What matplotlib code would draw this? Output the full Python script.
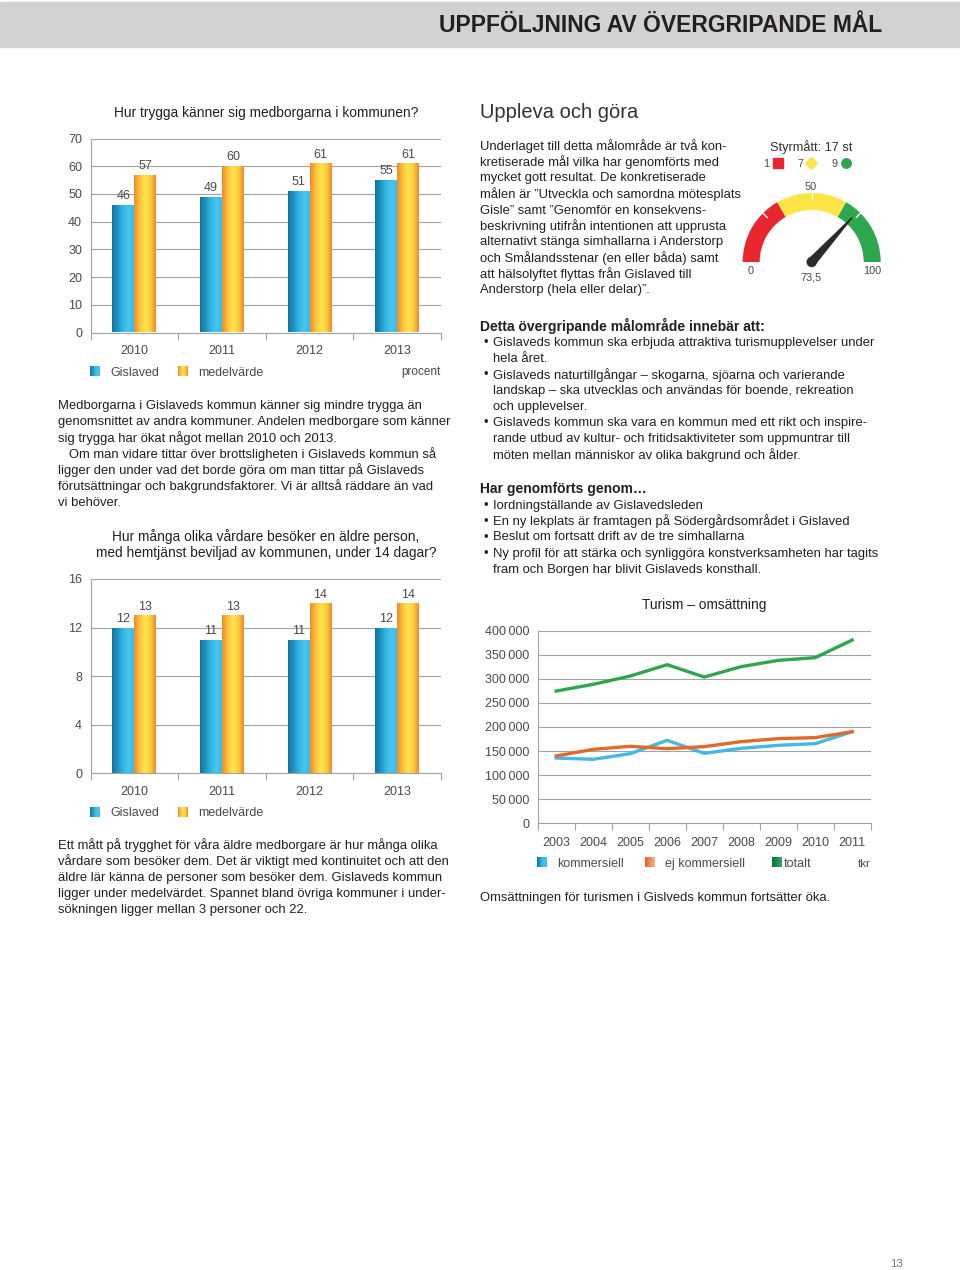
import numpy as np
import matplotlib.pyplot as plt
from matplotlib.patches import Rectangle, Wedge, Polygon, Circle
from matplotlib.colors import LinearSegmentedColormap

plt.rcParams['font.family'] = ['Liberation Sans', 'DejaVu Sans']

W, H = 960, 1270

# ---- data ----
years_bar = ['2010', '2011', '2012', '2013']
trygg_gislaved = [46, 49, 51, 55]
trygg_medel = [57, 60, 61, 61]
trygg_ticks = [0, 10, 20, 30, 40, 50, 60, 70]

vardare_gislaved = [12, 11, 11, 12]
vardare_medel = [13, 13, 14, 14]
vardare_ticks = [0, 4, 8, 12, 16]

years_tur = ['2003', '2004', '2005', '2006', '2007', '2008', '2009', '2010', '2011']
tur_kommersiell = [135600, 132900, 144600, 172300, 145300, 155700, 161900, 165400, 190300]
tur_ej_kommersiell = [139800, 153600, 159900, 155000, 159200, 169600, 175800, 177900, 190300]
tur_totalt = [274700, 288600, 305900, 329400, 303800, 325300, 338400, 344000, 380600]
tur_ticks = [0, 50000, 100000, 150000, 200000, 250000, 300000, 350000, 400000]

styrmatt_total = 17
styrmatt_counts = [1, 7, 9]
gauge_value = 73.5

TXT = '#231f20'
GRAY = '#4a4a4a'
GRID = '#a3a3a3'
BODY = 9.35
TICK = 9

blue_cm = LinearSegmentedColormap.from_list('b', ['#14739c', '#1e92c2', '#36b7e6', '#44c5f1', '#3cbbe9'])
orange_cm = LinearSegmentedColormap.from_list('o', ['#f08a2c', '#fbc03c', '#ffe54b', '#fbcf40', '#ee8a2e'])
salmon_cm = LinearSegmentedColormap.from_list('s', ['#e4602c', '#f08a5c', '#f7b08e'])
green_cm = LinearSegmentedColormap.from_list('g', ['#0e6f3a', '#1f8c4c', '#35a862'])
grad = np.linspace(0, 1, 64).reshape(1, -1)

fig = plt.figure(figsize=(9.6, 12.7), dpi=100)
page = fig.add_axes([0, 0, 1, 1])
page.axis('off')


def px_axes(x0, y0, x1, y1):
    return fig.add_axes([x0 / W, 1 - y1 / H, (x1 - x0) / W, (y1 - y0) / H])


def lines(x, y0, rows, step=16, size=BODY, **kw):
    for i, r in enumerate(rows):
        page.text(x, y0 + i * step, r, va='center_baseline', ha='left',
                  fontsize=size, color=TXT, **kw)


def legend_sq(x, y, cm, label, tx):
    page.imshow(grad, cmap=cm, extent=(x, x + 10, y + 5, y - 5), aspect='auto', zorder=3)
    page.text(tx, y, label, va='center_baseline', ha='left', fontsize=TICK, color=GRAY)


def style_axes(ax, n):
    ax.set_xlim(-0.5, n - 0.5)
    ax.yaxis.grid(True, color=GRID, lw=0.8)
    ax.set_axisbelow(True)
    ax.set_xticks(np.arange(n + 1) - 0.5, minor=True)
    ax.tick_params(axis='x', which='major', length=0, pad=9, labelsize=TICK, labelcolor=GRAY)
    ax.tick_params(axis='x', which='minor', length=5, color=GRID, width=0.8)
    ax.tick_params(axis='y', length=0, pad=6, labelsize=TICK, labelcolor=GRAY)
    for s in ['top', 'right']:
        ax.spines[s].set_visible(False)
    for s in ['left', 'bottom']:
        ax.spines[s].set_color(GRID)
        ax.spines[s].set_linewidth(0.8)
    ax.patch.set_alpha(0)


def bar_chart(ax, g, m, ymax, ticks):
    x = np.arange(len(years_bar))
    w = 0.25
    for vals, off, cm in [(g, -w / 2, blue_cm), (m, w / 2, orange_cm)]:
        bars = ax.bar(x + off, vals, w, color='none', zorder=3)
        for b, v in zip(bars, vals):
            im = ax.imshow(grad, cmap=cm, aspect='auto', zorder=3,
                           extent=(b.get_x(), b.get_x() + w, 0, v))
            im.set_clip_path(b)
            ax.annotate(str(v), (b.get_x() + w / 2, v), xytext=(0, 2),
                        textcoords='offset points', ha='center', va='bottom',
                        fontsize=TICK, color=GRAY)
    ax.set_ylim(0, ymax)
    ax.set_yticks(ticks)
    ax.set_xticks(x, years_bar)
    style_axes(ax, len(years_bar))


# ---- header ----
page.add_patch(Rectangle((0, 2), W, 45, color='#d1d2d4', zorder=0))
page.text(882, 25, 'UPPFÖLJNING AV ÖVERGRIPANDE MÅL', ha='right', va='center',
          fontsize=16.5, fontweight='bold', color='#231f20')

# ---- chart 1 ----
page.text(266, 112, 'Hur trygga känner sig medborgarna i kommunen?', ha='center',
          va='center_baseline', fontsize=9.9, color=TXT)
ax1 = px_axes(90.5, 138.5, 441, 332.5)
bar_chart(ax1, trygg_gislaved, trygg_medel, 70, trygg_ticks)
legend_sq(90, 371, blue_cm, 'Gislaved', 110)
legend_sq(178, 371, orange_cm, 'medelvärde', 198)
page.text(441, 371, 'procent', ha='right', va='center_baseline', fontsize=8.5, color=GRAY)

lines(58, 405, [
    'Medborgarna i Gislaveds kommun känner sig mindre trygga än',
    'genomsnittet av andra kommuner. Andelen medborgare som känner',
    'sig trygga har ökat något mellan 2010 och 2013.',
])
lines(58, 453, [
    '   Om man vidare tittar över brottsligheten i Gislaveds kommun så',
    'ligger den under vad det borde göra om man tittar på Gislaveds',
    'förutsättningar och bakgrundsfaktorer. Vi är alltså räddare än vad',
    'vi behöver.',
])

# ---- chart 2 ----
page.text(266, 535, 'Hur många olika vårdare besöker en äldre person,', ha='center',
          va='center_baseline', fontsize=9.9, color=TXT)
page.text(266, 552, 'med hemtjänst beviljad av kommunen, under 14 dagar?', ha='center',
          va='center_baseline', fontsize=9.9, color=TXT)
ax2 = px_axes(90.5, 579, 441, 773.3)
bar_chart(ax2, vardare_gislaved, vardare_medel, 16, vardare_ticks)
legend_sq(90, 812, blue_cm, 'Gislaved', 110)
legend_sq(178, 812, orange_cm, 'medelvärde', 198)

lines(58, 844, [
    'Ett mått på trygghet för våra äldre medborgare är hur många olika',
    'vårdare som besöker dem. Det är viktigt med kontinuitet och att den',
    'äldre lär känna de personer som besöker dem. Gislaveds kommun',
    'ligger under medelvärdet. Spannet bland övriga kommuner i under-',
    'sökningen ligger mellan 3 personer och 22.',
])

# ---- right column ----
page.text(480, 111, 'Uppleva och göra', ha='left', va='center_baseline',
          fontsize=14.5, color='#333333')
lines(480.5, 145, [
    'Underlaget till detta målområde är två kon-',
    'kretiserade mål vilka har genomförts med',
    'mycket gott resultat. De konkretiserade',
    'målen är ”Utveckla och samordna mötesplats',
    'Gisle” samt ”Genomför en konsekvens-',
    'beskrivning utifrån intentionen att upprusta',
    'alternativt stänga simhallarna i Anderstorp',
    'och Smålandsstenar (en eller båda) samt',
    'att hälsolyftet flyttas från Gislaved till',
    'Anderstorp (hela eller delar)”.',
])

# gauge
page.text(811, 146, f'Styrmått: {styrmatt_total} st', ha='center', va='center_baseline',
          fontsize=9.2, color='#333333')
for xnum, xm, mk, col, cnt in [(766, 778, 's', '#e8262d', styrmatt_counts[0]),
                               (800, 811, 'D', '#fde545', styrmatt_counts[1]),
                               (834, 846, 'o', '#2ea64e', styrmatt_counts[2])]:
    page.text(xnum, 163, str(cnt), ha='center', va='center_baseline', fontsize=7.8, color=GRAY)
    page.plot([xm], [162.5], mk, ms=6.8 if mk != 'D' else 5.8, color=col, zorder=4)

cx, cy = 811.7, 262
for v0, v1, col in [(0, 100 / 3, '#e8262d'), (100 / 3, 200 / 3, '#fde545'), (200 / 3, 100, '#2ea64e')]:
    page.add_patch(Wedge((cx, cy), 69, 180 + 1.8 * v0, 180 + 1.8 * v1, width=17,
                         color=col, lw=0, zorder=2))
for v in [25, 50, 75]:
    th = np.radians(180 + 1.8 * v)
    page.plot([cx + 63 * np.cos(th), cx + 69 * np.cos(th)],
              [cy + 63 * np.sin(th), cy + 69 * np.sin(th)], color='white', lw=1, zorder=3)
th = np.radians(180 + 1.8 * gauge_value)
tip = (cx + 60 * np.cos(th), cy + 60 * np.sin(th))
perp = (-np.sin(th), np.cos(th))
page.add_patch(Polygon([(cx + 4 * perp[0], cy + 4 * perp[1]), tip,
                        (cx - 4 * perp[0], cy - 4 * perp[1])], closed=True,
                       color='#2b2b2b', zorder=4))
page.add_patch(Circle((cx, cy), 4.5, color='#2b2b2b', zorder=4))
page.text(811, 186, '50', ha='center', va='center_baseline', fontsize=7.8, color=GRAY)
page.text(751, 270, '0', ha='center', va='center_baseline', fontsize=7.8, color=GRAY)
page.text(872, 270, '100', ha='center', va='center_baseline', fontsize=7.8, color=GRAY)
page.text(811, 276, '73,5', ha='center', va='center_baseline', fontsize=7.8, color=GRAY)

page.text(480, 324, 'Detta övergripande målområde innebär att:', ha='left',
          va='center_baseline', fontsize=10, fontweight='bold', color=TXT)
bul1 = [
    ('•', 'Gislaveds kommun ska erbjuda attraktiva turismupplevelser under'),
    ('', 'hela året.'),
    ('•', 'Gislaveds naturtillgångar – skogarna, sjöarna och varierande'),
    ('', 'landskap – ska utvecklas och användas för boende, rekreation'),
    ('', 'och upplevelser.'),
    ('•', 'Gislaveds kommun ska vara en kommun med ett rikt och inspire-'),
    ('', 'rande utbud av kultur- och fritidsaktiviteter som uppmuntrar till'),
    ('', 'möten mellan människor av olika bakgrund och ålder.'),
]
lines(483, 341.5, [b for b, _ in bul1])
lines(493, 341.5, [t for _, t in bul1])

page.text(480, 487.5, 'Har genomförts genom…', ha='left',
          va='center_baseline', fontsize=10, fontweight='bold', color=TXT)
bul2 = [
    ('•', 'Iordningställande av Gislavedsleden'),
    ('•', 'En ny lekplats är framtagen på Södergårdsområdet i Gislaved'),
    ('•', 'Beslut om fortsatt drift av de tre simhallarna'),
    ('•', 'Ny profil för att stärka och synliggöra konstverksamheten har tagits'),
    ('', 'fram och Borgen har blivit Gislaveds konsthall.'),
]
lines(483, 504, [b for b, _ in bul2])
lines(493, 504, [t for _, t in bul2])

# ---- chart 3 ----
page.text(704, 604, 'Turism – omsättning', ha='center', va='center_baseline',
          fontsize=9.9, color=TXT)
ax3 = px_axes(537.7, 630.7, 870.7, 823.3)
xt = np.arange(len(years_tur))
ax3.plot(xt, tur_kommersiell, color='#45b8e8', lw=2.4, zorder=3)
ax3.plot(xt, tur_ej_kommersiell, color='#df6a2c', lw=2.4, zorder=3)
ax3.plot(xt, tur_totalt, color='#2fa64c', lw=2.4, zorder=3)
ax3.set_ylim(0, 400000)
ax3.set_yticks(tur_ticks, ['0' if v == 0 else f'{v:,}'.replace(',', '\u2009') for v in tur_ticks])
ax3.set_xticks(xt, years_tur)
style_axes(ax3, len(years_tur))
ax3.tick_params(axis='x', which='major', pad=10)

legend_sq(537, 862.5, blue_cm, 'kommersiell', 557)
legend_sq(645, 862.5, salmon_cm, 'ej kommersiell', 665)
legend_sq(772, 862.5, green_cm, 'totalt', 784)
page.text(858, 863, 'tkr', ha='left', va='center_baseline', fontsize=8.2, color=GRAY)

lines(480, 897, ['Omsättningen för turismen i Gislveds kommun fortsätter öka.'])

page.text(896, 1263, '13', ha='center', va='center_baseline', fontsize=8.2, color='#777777')

page.set_xlim(0, W)
page.set_ylim(H, 0)
fig.savefig('out.png', dpi=100)
